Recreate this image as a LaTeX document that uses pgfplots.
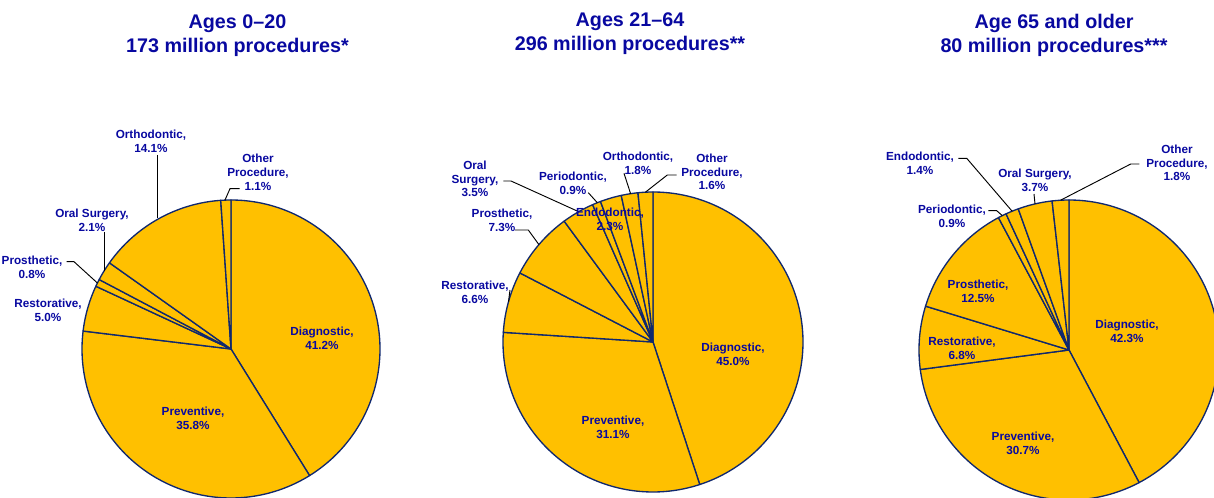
\documentclass[border=0pt]{standalone}
\usepackage{fontspec}
\setmainfont{Liberation Sans}
\usepackage{pgfplots}
\pgfplotsset{compat=1.18}
\definecolor{gold}{RGB}{255,192,0}
\definecolor{edge}{RGB}{16,40,110}
\definecolor{txt}{RGB}{8,8,160}
\tikzset{
  slice/.style={fill=gold, draw=edge, line width=1pt, line join=round},
  lbl/.style={font=\fontsize{8.8pt}{10.3pt}\selectfont\bfseries, text=txt, align=center, inner sep=0pt},
  ttl/.style={font=\fontsize{14.8pt}{18pt}\selectfont\bfseries, text=txt, align=center, inner sep=0pt},
  lead/.style={black, line width=0.7pt},
}

\newcommand{\pie}[4]{%
  \def\tot{0}%
  \pgfplotsforeachungrouped \v in {#4}{\pgfmathsetmacro\tot{\tot+\v}}%
  \def\cum{0}%
  \pgfplotsforeachungrouped \v in {#4}{%
    \pgfmathsetmacro\aA{90-\cum/\tot*360}%
    \pgfmathsetmacro\cum{\cum+\v}%
    \pgfmathsetmacro\aB{90-\cum/\tot*360}%
    \edef\next{\noexpand\addplot[slice, samples=120, domain=\aB:\aA] ({#1+#3*cos(x)},{#2-#3*sin(x)}) -- (axis cs:#1,#2) -- cycle;}%
    \next
  }%
}

\begin{document}
\begin{tikzpicture}
\begin{axis}[
  width=910.5pt, height=373.5pt, scale only axis,
  xmin=0, xmax=1214, ymin=0, ymax=498, y dir=reverse,
  hide axis, clip=true, clip bounding box=upper bound,
]
% Pie 1: Ages 0-20 (Diagnostic, Preventive, Restorative, Prosthetic, Oral Surgery, Orthodontic, Other)
\pie{231}{349}{149}{41.2,35.8,5.0,0.8,2.1,14.1,1.1}
% Pie 2: Ages 21-64 (Diagnostic, Preventive, Restorative, Prosthetic, Oral Surgery, Periodontic, Endodontic, Orthodontic, Other)
\pie{653}{342}{150}{45.0,31.1,6.6,7.3,3.5,0.9,2.3,1.8,1.6}
% Pie 3: 65+ (Diagnostic, Preventive, Restorative, Prosthetic, Periodontic, Endodontic, Oral Surgery, Other)
\pie{1069}{350}{150}{42.3,30.7,6.8,12.5,0.9,1.4,3.7,1.8}

% leader lines
\addplot[lead] coordinates {(157.7,155)(157.7,218)};
\addplot[lead] coordinates {(239.7,188.7)(230,188.7)(225,200)};
\addplot[lead] coordinates {(104,232)(104,271)};
\addplot[lead] coordinates {(66.7,261.7)(74,261.7)(97.4,283)};

\addplot[lead] coordinates {(503.3,181)(511,181)(578.7,211.7)};
\addplot[lead] coordinates {(588.3,192.7)(597.3,202.7)};
\addplot[lead] coordinates {(624,173.3)(630.6,193.7)};
\addplot[lead] coordinates {(676.7,175)(667.3,175)(645.4,192.2)};
\addplot[lead] coordinates {(515,230)(528.3,230)(538.9,244.6)};
\addplot[lead] coordinates {(510,290)(508.5,301.7)};

\addplot[lead] coordinates {(958.3,158.3)(966.7,158.3)(1012.1,211.2)};
\addplot[lead] coordinates {(1034,194)(1035,203.9)};
\addplot[lead] coordinates {(988.3,210.7)(996.7,210.7)(1002.3,215.6)};
\addplot[lead] coordinates {(1139.3,164)(1130.7,164)(1060.6,200.2)};

% titles
\node[ttl] at (axis cs:237.5,35.5) {Ages 0–20\\173 million procedures*};
\node[ttl] at (axis cs:630,34) {Ages 21–64\\296 million procedures**};
\node[ttl] at (axis cs:1054,35) {Age 65 and older\\80 million procedures***};

% labels pie 1
\node[lbl] at (axis cs:151,141) {Orthodontic,\\14.1\%};
\node[lbl] at (axis cs:258,172.5) {Other\\Procedure,\\1.1\%};
\node[lbl] at (axis cs:92,220) {Oral Surgery,\\2.1\%};
\node[lbl] at (axis cs:32,267.5) {Prosthetic,\\0.8\%};
\node[lbl] at (axis cs:48,310) {Restorative,\\5.0\%};
\node[lbl] at (axis cs:322,338) {Diagnostic,\\41.2\%};
\node[lbl] at (axis cs:193,418) {Preventive,\\35.8\%};

% labels pie 2
\node[lbl] at (axis cs:475,179) {Oral\\Surgery,\\3.5\%};
\node[lbl] at (axis cs:573,183) {Periodontic,\\0.9\%};
\node[lbl] at (axis cs:610,219) {Endodontic,\\2.3\%};
\node[lbl] at (axis cs:638,163) {Orthodontic,\\1.8\%};
\node[lbl] at (axis cs:712,172) {Other\\Procedure,\\1.6\%};
\node[lbl] at (axis cs:502,220) {Prosthetic,\\7.3\%};
\node[lbl] at (axis cs:475,292) {Restorative,\\6.6\%};
\node[lbl] at (axis cs:733,354) {Diagnostic,\\45.0\%};
\node[lbl] at (axis cs:613,427) {Preventive,\\31.1\%};

% labels pie 3
\node[lbl] at (axis cs:920,163) {Endodontic,\\1.4\%};
\node[lbl] at (axis cs:1035,180) {Oral Surgery,\\3.7\%};
\node[lbl] at (axis cs:952,216) {Periodontic,\\0.9\%};
\node[lbl] at (axis cs:1177,163) {Other\\Procedure,\\1.8\%};
\node[lbl] at (axis cs:978,291) {Prosthetic,\\12.5\%};
\node[lbl] at (axis cs:1127,331) {Diagnostic,\\42.3\%};
\node[lbl] at (axis cs:962,348) {Restorative,\\6.8\%};
\node[lbl] at (axis cs:1023,443) {Preventive,\\30.7\%};
\end{axis}
\path (current axis.south west) rectangle (current axis.north east);
\end{tikzpicture}
\end{document}
